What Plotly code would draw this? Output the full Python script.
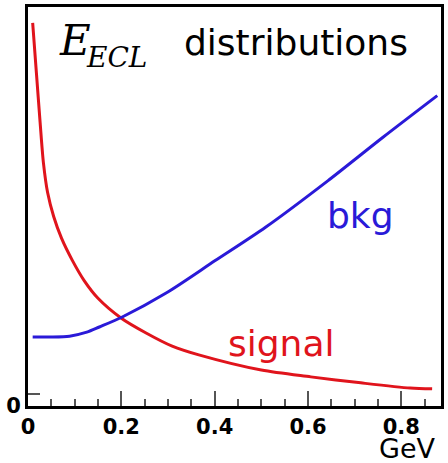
import plotly.graph_objects as go

# Energy in the calorimeter (GeV) and the shapes of the two distributions
signal_x = [0.010, 0.018, 0.026, 0.033, 0.042, 0.055, 0.072, 0.095, 0.120, 0.150,
            0.200, 0.253, 0.309, 0.366, 0.500, 0.606, 0.713, 0.819, 0.866]
signal_y = [0.960, 0.835, 0.710, 0.610, 0.535, 0.475, 0.420, 0.365, 0.315, 0.270,
            0.220, 0.183, 0.150, 0.128, 0.090, 0.073, 0.058, 0.045, 0.043]

bkg_x = [0.010, 0.047, 0.089, 0.126, 0.153, 0.202, 0.296, 0.402, 0.509, 0.643,
         0.760, 0.877]
bkg_y = [0.173, 0.173, 0.175, 0.185, 0.198, 0.223, 0.283, 0.365, 0.448, 0.565,
         0.673, 0.778]

x_ticks = [0, 0.2, 0.4, 0.6, 0.8]
x_tick_text = ["0", "0.2", "0.4", "0.6", "0.8"]

RED = "#e0141c"
BLUE = "#2a1ad8"

fig = go.Figure()
fig.add_trace(go.Scatter(x=signal_x, y=signal_y, mode="lines", name="signal",
                         line=dict(color=RED, width=3, shape="spline", smoothing=0.8)))
fig.add_trace(go.Scatter(x=bkg_x, y=bkg_y, mode="lines", name="bkg",
                         line=dict(color=BLUE, width=3, shape="spline", smoothing=0.8)))

W, H = 448, 463
L, R, T, B = 28, 4, 6, 57
pw, ph = W - L - R, H - T - B


def px(x):
    return (x - L) / pw


def py(y):
    return (H - B - y) / ph


sans = "DejaVu Sans"
serif = "DejaVu Serif"

annotations = [
    dict(text="distributions", x=px(298), y=py(42), font=dict(family=sans, size=36, color="black")),
    dict(text="<i>E</i>", x=px(75), y=py(40), font=dict(family=serif, size=42, color="black")),
    dict(text="<i>ECL</i>", x=px(117), y=py(57), font=dict(family=serif, size=28, color="black")),
    dict(text="bkg", x=px(363), y=py(215), font=dict(family=sans, size=36, color=BLUE)),
    dict(text="signal", x=px(283), y=py(343), font=dict(family=sans, size=36, color=RED)),
    dict(text="GeV", x=px(380), y=py(449), xanchor="left",
         font=dict(family=sans, size=27, color="black")),
]
for a in annotations:
    a.update(xref="paper", yref="paper", showarrow=False)
    a.setdefault("xanchor", "center")
    a.setdefault("yanchor", "middle")

fig.update_layout(
    width=W, height=H,
    margin=dict(l=L, r=R, t=T, b=B),
    paper_bgcolor="white", plot_bgcolor="white",
    showlegend=False,
    annotations=annotations,
    xaxis=dict(
        range=[0, 0.885], showgrid=False, zeroline=False,
        showline=True, linecolor="black", linewidth=3, mirror=True,
        tickmode="array", tickvals=x_ticks, ticktext=x_tick_text,
        ticks="inside", ticklen=15, tickwidth=2, tickcolor="#555555",
        minor=dict(dtick=0.05, tick0=0, ticks="inside", ticklen=7, tickwidth=2, tickcolor="#555555"),
        tickfont=dict(family=sans, size=21, color="black", weight="bold"),
    ),
    yaxis=dict(
        range=[0, 1], showgrid=False, zeroline=False,
        showline=True, linecolor="black", linewidth=3, mirror=True,
        tickmode="array", tickvals=[0, 0.03], ticktext=["0", ""],
        ticks="inside", ticklen=12, tickwidth=2, tickcolor="#555555",
        tickfont=dict(family=sans, size=21, color="black", weight="bold"),
    ),
)

fig.write_html("out.html")
